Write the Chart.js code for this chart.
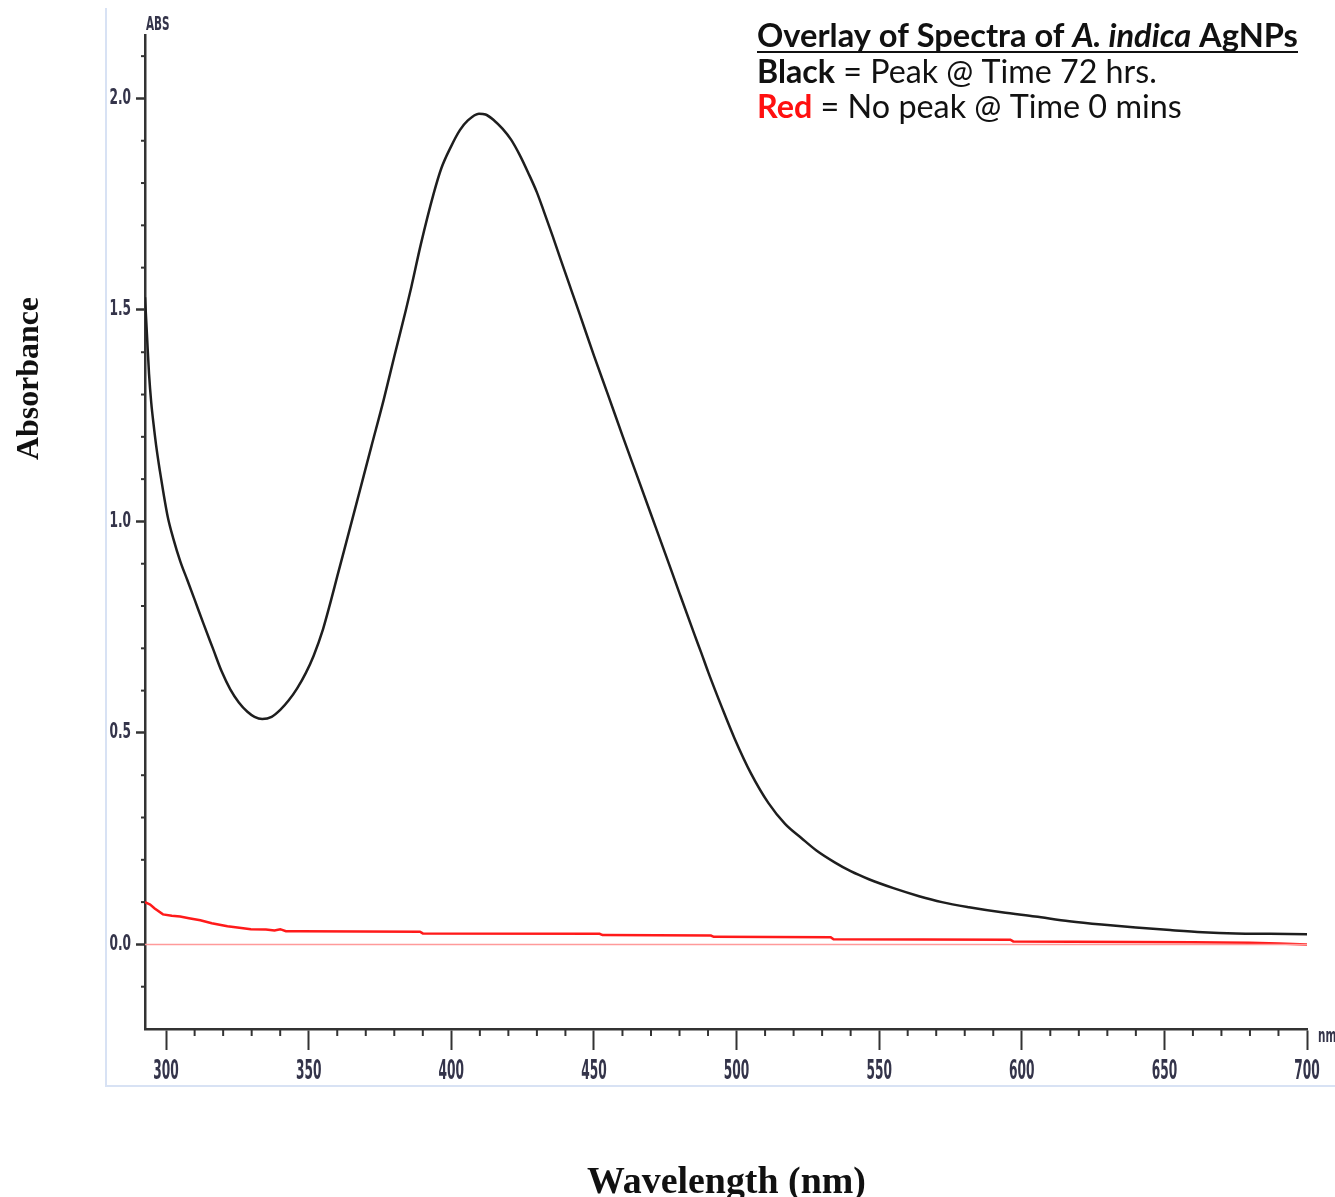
<!DOCTYPE html>
<html>
<head>
<meta charset="utf-8">
<script src="https://cdn.jsdelivr.net/npm/chart.js@4.4.1/dist/chart.umd.min.js"></script>
<style>
  body { margin: 0; background: #fff; }
  #wrap { width: 1335px; height: 1197px; position: relative; }
</style>
</head>
<body>
<div id="wrap"><canvas id="graficoEspectro"></canvas></div>
<script>
// spectrum (nm, absorbance)
const blackNm = [292.6, 293.3, 294.0, 294.8, 295.6, 296.5, 297.8, 299.0, 300.6, 302.5, 305.0, 307.4, 310.0, 313.0, 316.5, 319.5, 322.5, 325.5, 328.5, 331.0, 333.7, 337.0, 340.1, 343.0, 346.0, 349.0, 351.7, 355.0, 357.6, 360.0, 364.7, 368.0, 372.0, 376.3, 380.0, 384.0, 386.0, 389.3, 393.8, 396.5, 399.8, 403.0, 405.8, 409.7, 412.0, 415.0, 418.0, 421.0, 424.0, 426.9, 430.0, 432.5, 435.5, 438.5, 442.0, 445.0, 450.0, 455.0, 460.0, 465.0, 470.0, 475.0, 480.0, 485.0, 487.7, 490.0, 495.0, 499.3, 505.0, 511.2, 517.0, 522.8, 528.0, 534.4, 540.0, 546.4, 555.0, 564.0, 572.0, 581.5, 593.0, 604.7, 616.7, 628.0, 640.0, 652.0, 663.4, 675.0, 687.0, 700.0];
const blackAbs = [1.53, 1.44, 1.35, 1.28, 1.23, 1.18, 1.12, 1.07, 1.01, 0.96, 0.905, 0.862, 0.815, 0.76, 0.698, 0.645, 0.603, 0.572, 0.550, 0.538, 0.533, 0.538, 0.555, 0.577, 0.606, 0.642, 0.682, 0.745, 0.808, 0.87, 0.99, 1.075, 1.178, 1.288, 1.39, 1.498, 1.555, 1.655, 1.775, 1.835, 1.885, 1.925, 1.948, 1.964, 1.962, 1.948, 1.928, 1.902, 1.866, 1.825, 1.778, 1.732, 1.675, 1.616, 1.548, 1.49, 1.392, 1.298, 1.203, 1.11, 1.017, 0.924, 0.83, 0.737, 0.688, 0.645, 0.558, 0.487, 0.405, 0.334, 0.285, 0.251, 0.222, 0.194, 0.173, 0.154, 0.133, 0.114, 0.10, 0.088, 0.076, 0.066, 0.055, 0.047, 0.040, 0.034, 0.029, 0.026, 0.025, 0.024];

const redNm = [292.6, 293.5, 294.4, 296.0, 298.9, 302.0, 304.9, 308.0, 312.0, 316.0, 321.5, 325.0, 329.7, 335.0, 338.0, 340.0, 342.0, 347.0, 389.0, 390.0, 452.0, 453.0, 491.0, 492.0, 533.0, 534.0, 596.0, 597.0, 660.0, 680.0, 690.0, 700.0];
const redAbs = [0.10, 0.097, 0.094, 0.085, 0.071, 0.068, 0.066, 0.062, 0.057, 0.05, 0.043, 0.04, 0.036, 0.035, 0.033, 0.036, 0.031, 0.031, 0.030, 0.026, 0.025, 0.022, 0.021, 0.018, 0.017, 0.012, 0.011, 0.007, 0.005, 0.004, 0.002, 0.0];

const zeroNm = [292.6, 700];
const zeroAbs = [0, 0];

const xTicks = [300, 350, 400, 450, 500, 550, 600, 650, 700];
const yTicks = [0.0, 0.5, 1.0, 1.5, 2.0];

const xMinor = [];
for (let v = 300; v <= 700; v += 10) xMinor.push(v);
const yMinor = [];
for (let v = -1; v <= 21; v++) yMinor.push(v / 10);

function pares(xs, ys) {
    return xs.map((x, i) => ({ x: x, y: ys[i] }));
}

// fits runs of text to a given width
function textoAjustado(ctx, runs, x, y, largura, familia, base) {
    let total = 0;
    runs.forEach(r => {
        ctx.font = (r.estilo || '') + ' ' + base + 'px ' + familia;
        total += ctx.measureText(r.t).width;
    });
    const tam = base * largura / total;
    let cx = x;
    runs.forEach(r => {
        ctx.font = (r.estilo || '') + ' ' + tam + 'px ' + familia;
        ctx.fillStyle = r.cor || '#111';
        ctx.fillText(r.t, cx, y);
        cx += ctx.measureText(r.t).width;
    });
    return tam;
}

// squeezed label like the instrument printout
function rotuloEstreito(ctx, txt, x, y, tam, aperto, alinha) {
    ctx.save();
    ctx.translate(x, y);
    ctx.scale(aperto, 1);
    ctx.font = 'bold ' + tam + 'px "DejaVu Sans", sans-serif';
    ctx.textAlign = alinha;
    ctx.textBaseline = 'middle';
    ctx.fillStyle = '#34344a';
    ctx.fillText(txt, 0, 0);
    ctx.restore();
}

const extras = {
    id: 'extras',
    afterDraw(chart) {
        const ctx = chart.ctx;
        const sx = chart.scales.x, sy = chart.scales.y;
        ctx.save();

        // minor ticks
        ctx.strokeStyle = '#333';
        ctx.lineWidth = 2;
        xMinor.forEach(v => {
            if (v % 50 === 0) return;
            const px = sx.getPixelForValue(v);
            ctx.beginPath(); ctx.moveTo(px, sy.bottom); ctx.lineTo(px, sy.bottom + 7); ctx.stroke();
        });
        yMinor.forEach(v => {
            if (Math.abs(v * 2 - Math.round(v * 2)) < 1e-6) return;
            const py = sy.getPixelForValue(v);
            ctx.beginPath(); ctx.moveTo(sx.left, py); ctx.lineTo(sx.left - 4, py); ctx.stroke();
        });

        // tick labels
        sx.ticks.forEach(t => {
            rotuloEstreito(ctx, String(t.value), sx.getPixelForValue(t.value), 1072, 26, 0.47, 'center');
        });
        sy.ticks.forEach(t => {
            rotuloEstreito(ctx, t.value.toFixed(1), 131, sy.getPixelForValue(t.value), 21, 0.58, 'right');
        });

        // light frame
        ctx.strokeStyle = '#d8e2f4';
        ctx.lineWidth = 2;
        ctx.beginPath(); ctx.moveTo(106, 8); ctx.lineTo(106, 1086); ctx.lineTo(1335, 1086); ctx.stroke();

        // ABS and nm labels
        rotuloEstreito(ctx, 'ABS', 146, 25, 19, 0.55, 'left');
        rotuloEstreito(ctx, 'nm', 1318, 1037, 19, 0.55, 'left');

        // axis titles
        ctx.textBaseline = 'middle';
        ctx.textAlign = 'left';
        ctx.save();
        ctx.translate(30, 460);
        ctx.rotate(-Math.PI / 2);
        textoAjustado(ctx, [{ t: 'Absorbance', estilo: 'bold' }], 0, 0, 163, '"Liberation Serif", serif', 30);
        ctx.restore();
        textoAjustado(ctx, [{ t: 'Wavelength (nm)', estilo: 'bold' }], 587, 1183, 279, '"Liberation Serif", serif', 32);

        // legend text, top right
        ctx.textBaseline = 'alphabetic';
        const fam = 'Lato, "Open Sans", sans-serif';
        textoAjustado(ctx, [
            { t: 'Overlay of Spectra of ', estilo: 'bold' },
            { t: 'A. indica', estilo: 'italic bold' },
            { t: ' AgNPs', estilo: 'bold' }
        ], 757, 47, 541, fam, 26);
        ctx.strokeStyle = '#111';
        ctx.lineWidth = 2;
        ctx.beginPath(); ctx.moveTo(757, 52); ctx.lineTo(1298, 52); ctx.stroke();
        textoAjustado(ctx, [
            { t: 'Black', estilo: 'bold' },
            { t: ' = Peak @ Time 72 hrs.' }
        ], 757, 83, 400, fam, 26);
        textoAjustado(ctx, [
            { t: 'Red', estilo: 'bold', cor: '#ff1010' },
            { t: ' = No peak @ Time 0 mins' }
        ], 757, 118, 425, fam, 26);

        ctx.restore();
    }
};

const ctxEspectro = document.getElementById('graficoEspectro').getContext('2d');
const graficoEspectro = new Chart(ctxEspectro, {
    type: 'line',
    data: {
        datasets: [{
            label: 'Zero',
            data: pares(zeroNm, zeroAbs),
            borderColor: '#ff9a9a',
            borderWidth: 1.5,
            pointRadius: 0
        }, {
            label: 'Red',
            data: pares(redNm, redAbs),
            borderColor: '#ff1a1a',
            borderWidth: 2.5,
            pointRadius: 0,
            tension: 0
        }, {
            label: 'Black',
            data: pares(blackNm, blackAbs),
            borderColor: '#1e1e1e',
            borderWidth: 2.5,
            pointRadius: 0,
            cubicInterpolationMode: 'monotone'
        }]
    },
    options: {
        responsive: true,
        maintainAspectRatio: false,
        animation: false,
        layout: {
            padding: { left: 0, top: 35, right: 28, bottom: 0 }
        },
        plugins: {
            legend: { display: false },
            tooltip: { enabled: false }
        },
        scales: {
            x: {
                type: 'linear',
                min: 292.6,
                max: 700,
                afterBuildTicks: (scale) => { scale.ticks = xTicks.map(v => ({ value: v })); },
                afterFit: (scale) => { scale.height = 168; },
                border: { display: true, color: '#333', width: 2.5 },
                grid: { drawOnChartArea: false, drawTicks: true, tickLength: 21, tickColor: '#333', tickWidth: 2 },
                ticks: { display: false }
            },
            y: {
                min: -0.2,
                max: 2.15,
                afterBuildTicks: (scale) => { scale.ticks = yTicks.map(v => ({ value: v })); },
                afterFit: (scale) => { scale.width = 145; },
                border: { display: true, color: '#333', width: 2.5 },
                grid: { drawOnChartArea: false, drawTicks: true, tickLength: 9, tickColor: '#333', tickWidth: 2.5 },
                ticks: { display: false }
            }
        }
    },
    plugins: [extras]
});
</script>
</body>
</html>
